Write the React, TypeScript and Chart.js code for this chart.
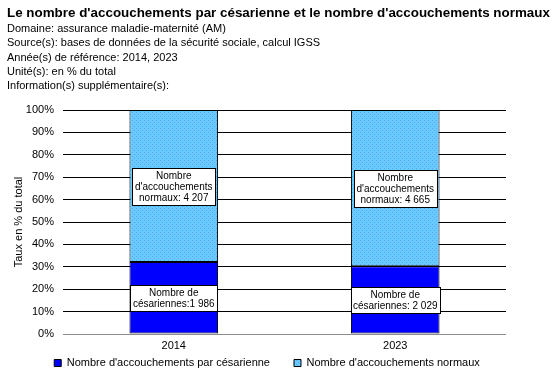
import React, { useEffect, useRef } from "react";
import { Chart, registerables } from "chart.js";

Chart.register(...registerables);

const title = "Le nombre d'accouchements par césarienne et le nombre d'accouchements normaux";
const headerLines = [
  "Domaine: assurance maladie-maternité (AM)",
  "Source(s): bases de données de la sécurité sociale, calcul IGSS",
  "Année(s) de référence: 2014, 2023",
  "Unité(s): en % du total",
  "Information(s) supplémentaire(s):",
];
const years = ["2014", "2023"];
const seriesNames = [
  "Nombre d'accouchements par césarienne",
  "Nombre d'accouchements normaux",
];
const cesareanCounts = [1986, 2029];
const normalCounts = [4207, 4665];
const cesareanPct = [32.1, 30.3];
const normalPct = [67.9, 69.7];
const cesareanSep = ["", " "];
const yAxisTitle = "Taux en % du total";
const yMin = 0;
const yMax = 100;
const yStep = 10;

const FONT = "Arial, 'Liberation Sans', sans-serif";

const fmt = (n: number) => String(n).replace(/\B(?=(\d{3})+(?!\d))/g, " ");

const labelLines: string[][][] = [
  cesareanCounts.map((n, i) => ["Nombre de", "césariennes:" + cesareanSep[i] + fmt(n)]),
  normalCounts.map((n) => ["Nombre", "d'accouchements", "normaux: " + fmt(n)]),
];

function makeDither(): any {
  const c = document.createElement("canvas");
  c.width = 4;
  c.height = 4;
  const g = c.getContext("2d");
  if (!g) return "#66ccff";
  g.fillStyle = "#66ccff";
  g.fillRect(0, 0, 4, 4);
  g.fillStyle = "#6a9cf2";
  g.fillRect(0, 0, 1, 1);
  g.fillRect(2, 2, 1, 1);
  return g.createPattern(c, "repeat") || "#66ccff";
}

const boxLabels = {
  id: "boxLabels",
  afterLayout(chart: any) {
    const lg = chart.legend;
    if (lg) {
      const w = lg.right - lg.left;
      lg.left = 267 - w / 2;
      lg.right = lg.left + w;
      lg.top = 363 - 5.5 - 24;
      lg.bottom = lg.top + 70;
    }
  },
  afterDatasetsDraw(chart: any) {
    const ctx = chart.ctx;
    ctx.save();
    ctx.font = "10px " + FONT;
    chart.data.datasets.forEach((_ds: any, di: number) => {
      const meta = chart.getDatasetMeta(di);
      meta.data.forEach((bar: any, j: number) => {
        const lines = labelLines[di][j];
        const { x, y, base, width } = bar.getProps(["x", "y", "base", "width"], true);
        const cy = (y + base) / 2;
        const tw = Math.max(...lines.map((l) => ctx.measureText(l).width));
        const bw = Math.min(Math.round(tw + 5), Math.round(width));
        const lh = 11;
        const bh = lines.length * lh + 4;
        const left = Math.round(x - bw / 2) + 0.5;
        const top = Math.round(cy - bh / 2) + 0.5;
        ctx.fillStyle = "#ffffff";
        ctx.fillRect(left, top, bw, bh);
        ctx.strokeStyle = "#000000";
        ctx.lineWidth = 1;
        ctx.strokeRect(left, top, bw, bh);
        ctx.fillStyle = "#000000";
        ctx.textAlign = "center";
        ctx.textBaseline = "middle";
        lines.forEach((l, k) => ctx.fillText(l, x, top + 2 + lh * k + lh / 2));
      });
    });
    ctx.restore();
  },
};

export default function App() {
  const ref = useRef<HTMLCanvasElement | null>(null);

  useEffect(() => {
    if (!ref.current) return;
    const dither = makeDither();
    const chart = new Chart(ref.current, {
      type: "bar",
      data: {
        labels: years,
        datasets: [
          {
            label: seriesNames[0],
            data: cesareanPct,
            backgroundColor: "#0000ff",
            borderColor: "#000000",
            borderWidth: 1,
            borderSkipped: false,
            barPercentage: 0.4,
            categoryPercentage: 1,
          },
          {
            label: seriesNames[1],
            data: normalPct,
            backgroundColor: dither,
            borderColor: "#000000",
            borderWidth: 1,
            borderSkipped: false,
            barPercentage: 0.4,
            categoryPercentage: 1,
          },
        ],
      },
      options: {
        responsive: false,
        animation: false,
        layout: { padding: { top: 110, left: 11, right: 51, bottom: 0 } },
        plugins: {
          title: { display: false },
          tooltip: { enabled: false },
          legend: {
            position: "bottom",
            maxHeight: 26,
            labels: {
              boxWidth: 7,
              boxHeight: 7,
              padding: 24,
              color: "#000000",
              font: { size: 11, family: FONT },
            },
          },
        },
        scales: {
          x: {
            stacked: true,
            grid: { display: false, drawTicks: false },
            border: { display: false },
            ticks: { color: "#000000", padding: 5, font: { size: 11, family: FONT } },
            afterFit: (s: any) => {
              s.height = 20;
            },
          },
          y: {
            stacked: true,
            min: yMin,
            max: yMax,
            grid: {
              drawTicks: false,
              color: (c: any) => (c.tick && c.tick.value === 0 ? "#8c8c8c" : "#000000"),
              lineWidth: 1,
            },
            border: { display: false },
            ticks: {
              stepSize: yStep,
              padding: 9,
              color: "#000000",
              font: { size: 11, family: FONT },
              callback: (v: any) => v + "%",
            },
            title: {
              display: true,
              text: yAxisTitle,
              color: "#000000",
              font: { size: 11, family: FONT },
              padding: { top: 1, bottom: 0 },
            },
            afterFit: (s: any) => {
              s.width = 52;
            },
          },
        },
      },
      plugins: [boxLabels],
    } as any);
    return () => chart.destroy();
  }, []);

  return (
    <div style={{ position: "fixed", left: 0, top: 0, width: 557, height: 380, background: "#fff" }}>
      <canvas ref={ref} width={557} height={380} style={{ position: "absolute", left: 0, top: 0, width: 557, height: 380 }} />
      <div
        style={{
          position: "absolute",
          left: 7,
          top: 4,
          fontFamily: FONT,
          color: "#000",
          pointerEvents: "none",
        }}
      >
        <div style={{ fontWeight: "bold", fontSize: 13.4, lineHeight: "17px", whiteSpace: "nowrap" }}>{title}</div>
        {headerLines.map((l, i) => (
          <div key={i} style={{ fontSize: 11, lineHeight: "14.3px", whiteSpace: "nowrap" }}>
            {l}
          </div>
        ))}
      </div>
    </div>
  );
}
